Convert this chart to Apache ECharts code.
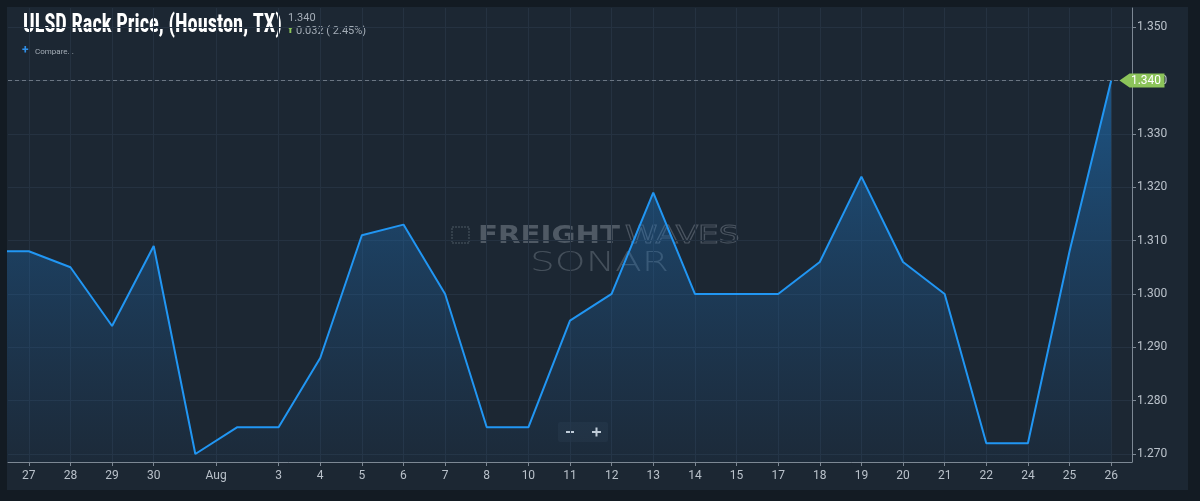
<!DOCTYPE html>
<html><head><meta charset="utf-8">
<script src="https://cdn.jsdelivr.net/npm/echarts@6/dist/echarts.min.js"></script>
<style>html,body{margin:0;padding:0;background:#131b23;}#c{width:1200px;height:501px;}</style>
</head><body><div id="c"></div>
<script>
// Trading days (Jul 25 .. Aug 26); first point sits just left of the visible window
const dayLabels = ['25','27','28','29','30','31','1','3','4','5','6','7','8','10','11','12','13','14','15','17','18','19','20','21','22','24','25','26'];
const prices = [1.308,1.308,1.305,1.294,1.309,1.270,1.275,1.275,1.288,1.311,1.313,1.300,1.275,1.275,1.295,1.300,1.319,1.300,1.300,1.300,1.306,1.322,1.306,1.300,1.272,1.272,1.308,1.340];
const monthBreak = 6;          // index of first August day in dayLabels
const monthName = 'Aug';
const yTickValues = [1.27,1.28,1.29,1.30,1.31,1.32,1.33,1.34,1.35];
const lastPrice = 1.340;
const change = '0.032 ( 2.45%)';

const xTickMap = {};
for (let i = 1; i < dayLabels.length; i++) {
  if (i === monthBreak - 1 || i === monthBreak) continue;
  xTickMap[i - 1] = dayLabels[i];
}
xTickMap[monthBreak - 1.5] = monthName;
const xTickValues = Object.keys(xTickMap).map(Number).sort((a,b)=>a-b);
const xMin = -0.5, xMax = 26.5;

const chart = echarts.init(document.getElementById('c'));
const font = 'Roboto, "Noto Sans", sans-serif';
chart.setOption({
  backgroundColor: '#131b23',
  animation: false,
  grid: { left: 8, right: 68, top: 8, bottom: 39 },
  xAxis: {
    type: 'value', min: xMin, max: xMax,
    axisLine: { show: true, onZero: false, lineStyle: { color: '#7d8894', width: 1 } },
    axisTick: { show: true, length: 4, customValues: xTickValues, lineStyle: { color: '#7d8894' } },
    axisLabel: { customValues: xTickValues, color: '#b9c1ca', fontSize: 12, fontFamily: font, margin: 8,
      formatter: v => xTickMap[v] || '' },
    splitLine: { show: true, lineStyle: { color: '#253241', width: 1 } }
  },
  yAxis: {
    type: 'value', position: 'right', min: 1.2685, max: 1.3536,
    axisLine: { show: true, onZero: false, lineStyle: { color: '#7d8894', width: 1 } },
    axisTick: { show: true, length: 4, customValues: yTickValues, lineStyle: { color: '#7d8894' } },
    axisLabel: { customValues: yTickValues, color: '#b9c1ca', fontSize: 12, fontFamily: font, margin: 5,
      formatter: v => v.toFixed(3) },
    splitLine: { show: true, lineStyle: { color: '#253241', width: 1 } }
  },
  series: [{
    type: 'line',
    data: prices.map((v, i) => [i - 1, v]),
    symbol: 'none',
    clip: true,
    lineStyle: { color: '#2196f3', width: 2 },
    areaStyle: {
      origin: 'start',
      color: new echarts.graphic.LinearGradient(0, 0, 0, 1, [
        { offset: 0, color: 'rgba(30,125,205,0.75)' },
        { offset: 1, color: 'rgba(30,100,170,0.08)' }
      ])
    },
    markLine: {
      silent: true, symbol: 'none',
      lineStyle: { color: '#6b7683', type: [4, 3], width: 1 },
      label: { show: false },
      data: [{ yAxis: lastPrice }]
    },
    markPoint: {
      silent: true,
      symbol: 'path://M0,7 L10,0 L45,0 L45,14 L10,14 Z',
      symbolSize: [45, 14],
      symbolKeepAspect: false,
      symbolOffset: [10, 0],
      itemStyle: { color: '#8cc45a' },
      label: { show: true, formatter: lastPrice.toFixed(3), color: '#ffffff', fontSize: 12, fontFamily: font, offset: [4, 0] },
      data: [{ coord: [xMax, lastPrice] }]
    }
  }],
  graphic: [
    { type: 'rect', z: -100, shape: { x: 7, y: 7, width: 1181, height: 483 }, style: { fill: '#1c2733' } },
    { type: 'text', x: 23, y: 13, scaleX: 0.815, style: { text: 'ULSD Rack Price, (Houston, TX)', fill: '#ffffff',
      font: 'bold 25px "Liberation Sans Narrow", "Roboto Condensed", Roboto, sans-serif' } },
    { type: 'text', left: 288, top: 13, style: { text: lastPrice.toFixed(3), fill: '#a4adb7', font: '11px ' + font } },
    { type: 'text', left: 287, top: 27, style: { text: '⬆', fill: '#8cc45a', font: '8px ' + font } },
    { type: 'text', left: 296, top: 26, style: { text: change, fill: '#a4adb7', font: '11px ' + font } },
    { type: 'text', left: 22, top: 45, style: { text: '+', fill: '#2f8fe8', font: 'bold 12px ' + font } },
    { type: 'text', left: 35, top: 48, style: { text: 'Compare...', fill: '#a4adb7', font: '8px ' + font } },
    // watermark
    { type: 'group', x: 452, y: 225, silent: true, children: [
      { type: 'rect', shape: { x: 0, y: 2, width: 17, height: 16 }, style: { fill: 'none', stroke: 'rgba(140,150,160,0.45)', lineWidth: 1, lineDash: [2,1] } },
      { type: 'text', x: 26, y: 0, scaleX: 1.22, style: { text: 'FREIGHT', fill: 'rgba(130,140,150,0.5)', font: 'bold 24px "DejaVu Sans", sans-serif' } },
      { type: 'text', x: 173, y: 0, scaleX: 1.36, style: { text: 'WAVES', fill: 'none', stroke: 'rgba(130,140,150,0.45)', lineWidth: 1, font: '24px "DejaVu Sans", sans-serif' } },
      { type: 'text', x: 78, y: 25, scaleX: 1.45, style: { text: 'SONAR', fill: 'rgba(130,140,150,0.4)', font: '200 27px "DejaVu Sans", sans-serif' } }
    ]},
    // zoom buttons
    { type: 'rect', shape: { x: 558, y: 422, width: 50, height: 20, r: 2 }, style: { fill: '#222e3b' } },
    { type: 'rect', shape: { x: 566, y: 431, width: 8, height: 2 }, style: { fill: '#d0d6dc' } },
    { type: 'rect', shape: { x: 592, y: 431, width: 9, height: 2 }, style: { fill: '#d0d6dc' } },
    { type: 'rect', shape: { x: 595.5, y: 427.5, width: 2, height: 9 }, style: { fill: '#d0d6dc' } }
  ]
});
</script></body></html>
